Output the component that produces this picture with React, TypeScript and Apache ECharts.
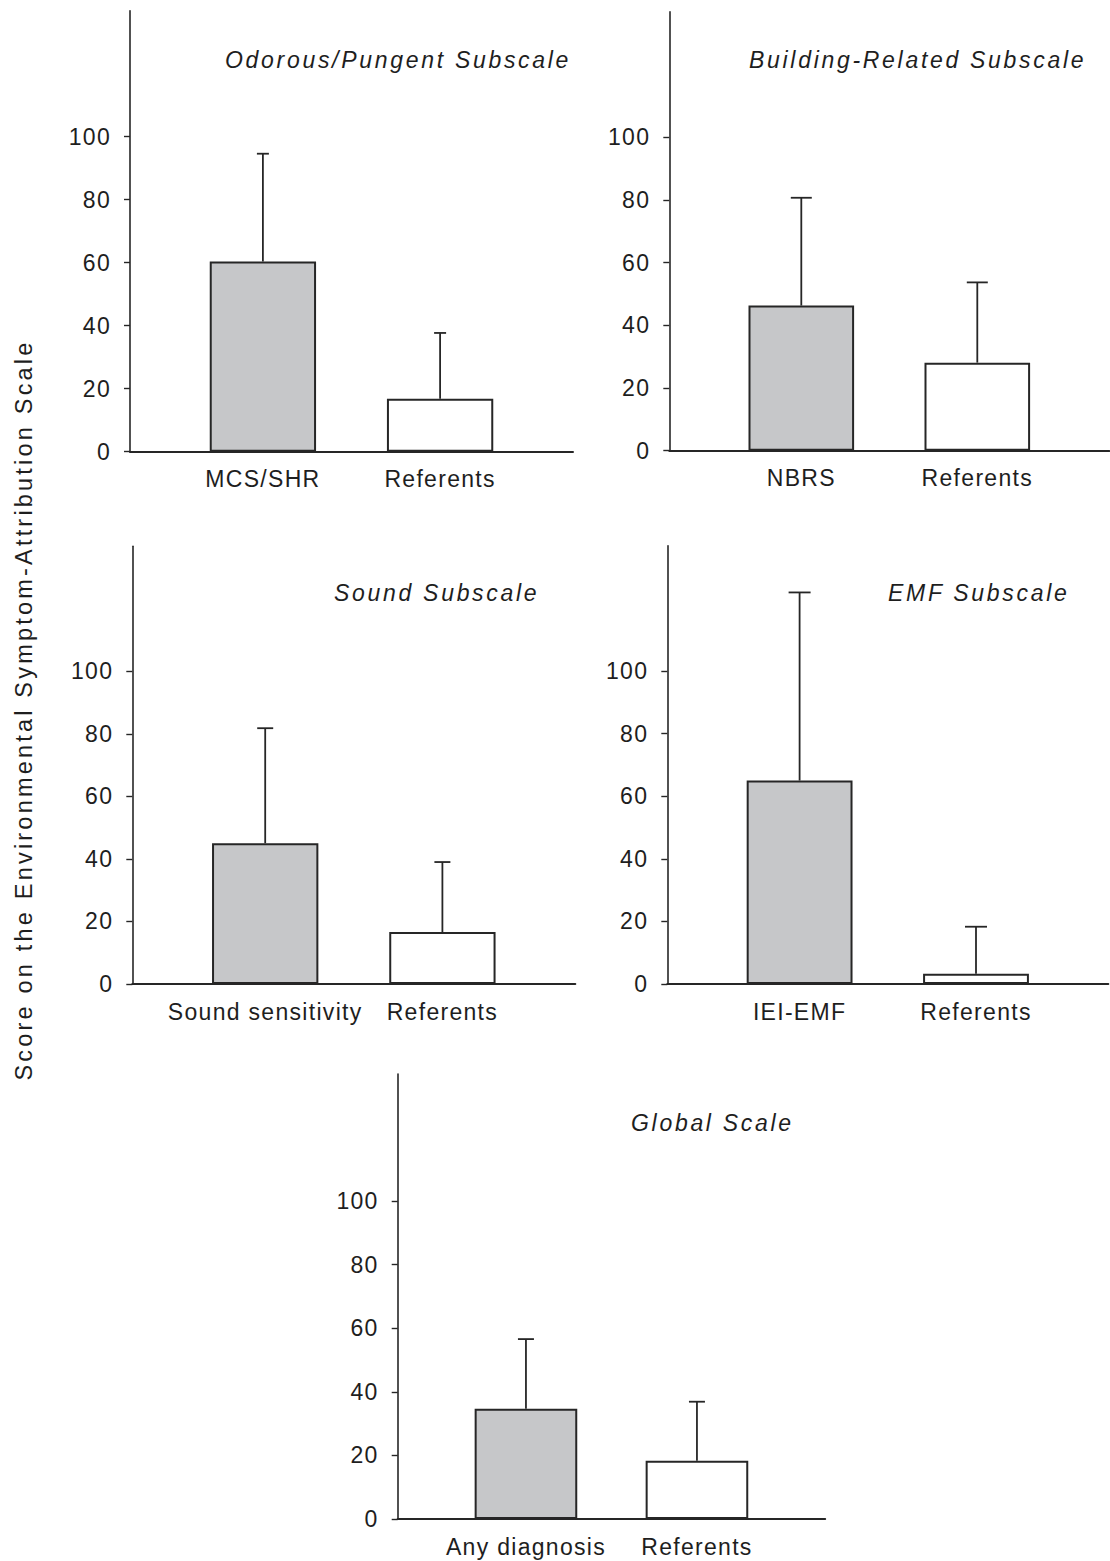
import React, { useEffect, useRef } from "react";
import * as echarts from "echarts";

// ---------- data ----------
const panelTitles = [
  "Odorous/Pungent Subscale",
  "Building-Related Subscale",
  "Sound Subscale",
  "EMF Subscale",
  "Global Scale",
];
const panelCategories = [
  ["MCS/SHR", "Referents"],
  ["NBRS", "Referents"],
  ["Sound sensitivity", "Referents"],
  ["IEI-EMF", "Referents"],
  ["Any diagnosis", "Referents"],
];
const groupMeans = [
  [60.4, 16.8],
  [46.3, 28.1],
  [45.0, 16.6],
  [65.0, 3.3],
  [34.7, 18.3],
];
const groupMeanPlusSD = [
  [94.6, 37.7],
  [80.7, 53.7],
  [81.8, 39.0],
  [125.1, 18.3],
  [56.6, 36.9],
];
const yTickValues = [0, 20, 40, 60, 80, 100];
const barPositions = [0.75, 1.75];
const yAxisTitle = "Score on the Environmental Symptom-Attribution Scale";

// ---------- layout / style ----------
const GRIDS = [
  { left: 130, top: 10.7, width: 443, height: 441 },
  { left: 669.3, top: 11.9, width: 440, height: 438.8 },
  { left: 132.3, top: 546.2, width: 443, height: 437.8 },
  { left: 667.3, top: 545.8, width: 441, height: 438.2 },
  { left: 397.7, top: 1074, width: 427.5, height: 445 },
];
const TITLE_POS = [
  [225, 60.3],
  [749, 59.5],
  [334, 593],
  [888, 592.5],
  [631, 1123],
];
const CAP_HALF = [6, 10.5, 8, 11, 8];
const BAR_FILLS = ["#c6c7c9", "#ffffff"];
const INK = "#1e1e1e";
const LINE = "#262626";
const FONT = '"Liberation Sans", Arial, Helvetica, sans-serif';

export default function App() {
  const ref = useRef<HTMLDivElement>(null);

  useEffect(() => {
    document.body.style.margin = "0";
    if (!ref.current) return;
    const chart = echarts.init(ref.current, undefined, { renderer: "svg" });

    const grid: any[] = [];
    const xAxis: any[] = [];
    const yAxis: any[] = [];
    const series: any[] = [];
    const graphic: any[] = [];

    GRIDS.forEach((g, i) => {
      grid.push({ ...g, containLabel: false });
      const cats = panelCategories[i];
      xAxis.push({
        type: "value",
        gridIndex: i,
        min: 0,
        max: 2.5,
        interval: 0.25,
        splitLine: { show: false },
        axisTick: { show: false },
        axisLine: { show: true, onZero: false, lineStyle: { color: LINE, width: 2 } },
        axisLabel: {
          show: true,
          margin: 16,
          color: INK,
          fontSize: 23,
          fontFamily: FONT,
          showMinLabel: false,
          showMaxLabel: false,
          formatter: (v: number) => {
            const k = barPositions.findIndex((p) => Math.abs(p - v) < 1e-6);
            return k >= 0 ? cats[k] : "";
          },
        },
      });
      yAxis.push({
        type: "value",
        gridIndex: i,
        min: 0,
        max: 140,
        interval: 20,
        splitLine: { show: false },
        axisLine: { show: true, lineStyle: { color: LINE, width: 1.6 } },
        axisTick: {
          show: true,
          length: 6,
          lineStyle: { color: LINE, width: 1.4 },
          customValues: yTickValues,
        },
        axisLabel: {
          show: true,
          margin: 19,
          color: INK,
          fontSize: 23,
          fontFamily: FONT,
          customValues: yTickValues,
          formatter: (v: number) => (v <= 100 ? String(v) : ""),
        },
      });
      const barW = (g.width / 2.5) * 0.6;
      series.push({
        type: "bar",
        xAxisIndex: i,
        yAxisIndex: i,
        barWidth: barW,
        z: 2,
        data: groupMeans[i].map((m, k) => ({
          value: [barPositions[k], m],
          itemStyle: { color: BAR_FILLS[k], borderColor: LINE, borderWidth: 2 },
        })),
      });
      const cap = CAP_HALF[i];
      series.push({
        type: "custom",
        xAxisIndex: i,
        yAxisIndex: i,
        z: 3,
        encode: { x: 0, y: [1, 2] },
        data: groupMeans[i].map((m, k) => [barPositions[k], m, groupMeanPlusSD[i][k]]),
        renderItem: (_p: any, api: any) => {
          const a = api.coord([api.value(0), api.value(1)]);
          const b = api.coord([api.value(0), api.value(2)]);
          const st = { stroke: LINE, lineWidth: 1.8 };
          return {
            type: "group",
            children: [
              { type: "line", shape: { x1: a[0], y1: a[1], x2: b[0], y2: b[1] }, style: st },
              { type: "line", shape: { x1: b[0] - cap, y1: b[1], x2: b[0] + cap, y2: b[1] }, style: st },
            ],
          };
        },
      });
      graphic.push({
        type: "text",
        x: TITLE_POS[i][0],
        y: TITLE_POS[i][1],
        style: {
          text: panelTitles[i],
          fill: INK,
          fontSize: 23,
          fontStyle: "italic",
          fontFamily: FONT,
          textAlign: "left",
          textVerticalAlign: "middle",
        },
      });
    });

    graphic.push({
      type: "text",
      x: 24,
      y: 710,
      rotation: Math.PI / 2,
      style: {
        text: yAxisTitle,
        fill: INK,
        fontSize: 23.5,
        fontFamily: FONT,
        textAlign: "center",
        textVerticalAlign: "middle",
      },
    });

    chart.setOption({
      animation: false,
      backgroundColor: "#ffffff",
      grid,
      xAxis,
      yAxis,
      series,
      graphic,
    });
    return () => chart.dispose();
  }, []);

  return (
    <>
      <style>{`
        .esa-chart text { letter-spacing: 1.3px; }
        .esa-chart text[style*="italic"] { letter-spacing: 2.7px; }
        .esa-chart text[style*="23.5px"] { letter-spacing: 3.2px; }
      `}</style>
      <div
        ref={ref}
        className="esa-chart"
        style={{ position: "absolute", left: 0, top: 0, width: 1110, height: 1561 }}
      />
    </>
  );
}
